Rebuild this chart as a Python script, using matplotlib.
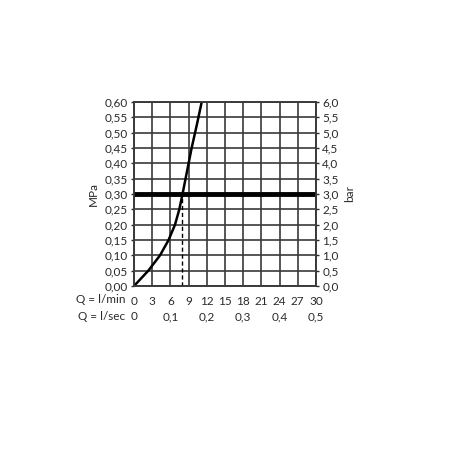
import matplotlib
matplotlib.use("Agg")
from matplotlib import pyplot as plt

# flow rate (l/min) vs pressure (MPa)
flow = [0, 2.36, 4.29, 5.7, 6.76, 7.47, 8.0, 8.75, 9.5, 10.35, 11.16]
pressure = [0, 0.05, 0.10, 0.15, 0.20, 0.25, 0.30, 0.375, 0.45, 0.525, 0.60]

lmin_ticks = [0, 3, 6, 9, 12, 15, 18, 21, 24, 27, 30]
lsec_pos = [0, 6, 12, 18, 24, 30]
lsec_labels = ["0", "0,1", "0,2", "0,3", "0,4", "0,5"]
mpa_ticks = [i * 0.05 for i in range(13)]
bar_ticks = [i * 0.5 for i in range(13)]

ref_pressure = 0.30
ref_flow = 7.96

plt.rcParams['font.family'] = ['Lato', 'DejaVu Sans']
fs = 8.5
txt_col = "#2a2a2a"
grid_col = "#3a3a3a"

fig = plt.figure(figsize=(4.5, 4.5), dpi=100)
ax = fig.add_axes([134 / 450, 1 - 286 / 450, 182 / 450, 184 / 450])

ax.set_xlim(0, 30)
ax.set_ylim(0, 0.60)
ax.set_xticks(lmin_ticks)
ax.set_yticks(mpa_ticks)
ax.set_xticklabels([str(t) for t in lmin_ticks], fontsize=fs)
ax.set_yticklabels([f"{t:.2f}".replace(".", ",") for t in mpa_ticks], fontsize=fs)
ax.grid(True, color=grid_col, linewidth=1.2)
ax.tick_params(axis="y", length=2.5, width=1, pad=2, colors=txt_col)
ax.tick_params(axis="x", length=0, pad=7, colors=txt_col)
for s in ax.spines.values():
    s.set_color(grid_col)
    s.set_linewidth(1.2)

ax.axhline(ref_pressure, color="black", linewidth=3.5, zorder=3)
ax.plot([ref_flow, ref_flow], [0, ref_pressure], color="black",
        linewidth=1, linestyle=(0, (3, 2)), zorder=3)
ax.plot(flow, pressure, color="black", linewidth=1.8, zorder=4,
        solid_joinstyle="round")

ax.set_ylabel("MPa", fontsize=fs, labelpad=4, color=txt_col)

ax2 = ax.twinx()
ax2.set_ylim(0, 6.0)
ax2.set_yticks(bar_ticks)
ax2.set_yticklabels([f"{t:.1f}".replace(".", ",") for t in bar_ticks], fontsize=fs)
ax2.tick_params(axis="y", length=2.5, width=1, pad=2, colors=txt_col)
ax2.set_ylabel("bar", fontsize=fs, labelpad=4, color=txt_col)
for s in ax2.spines.values():
    s.set_color(grid_col)
    s.set_linewidth(1.2)

# second row of flow labels in l/sec
for p, lab in zip(lsec_pos, lsec_labels):
    ax.text(p, -0.168, lab, fontsize=fs, ha="center", va="center",
            color=txt_col, transform=ax.get_xaxis_transform(), clip_on=False)
ax.text(-0.048, -0.076, "Q = l/min", fontsize=fs, ha="right", va="center",
        color=txt_col, transform=ax.transAxes, clip_on=False)
ax.text(-0.048, -0.168, "Q = l/sec", fontsize=fs, ha="right", va="center",
        color=txt_col, transform=ax.transAxes, clip_on=False)

fig.savefig("out.png", dpi=100)
